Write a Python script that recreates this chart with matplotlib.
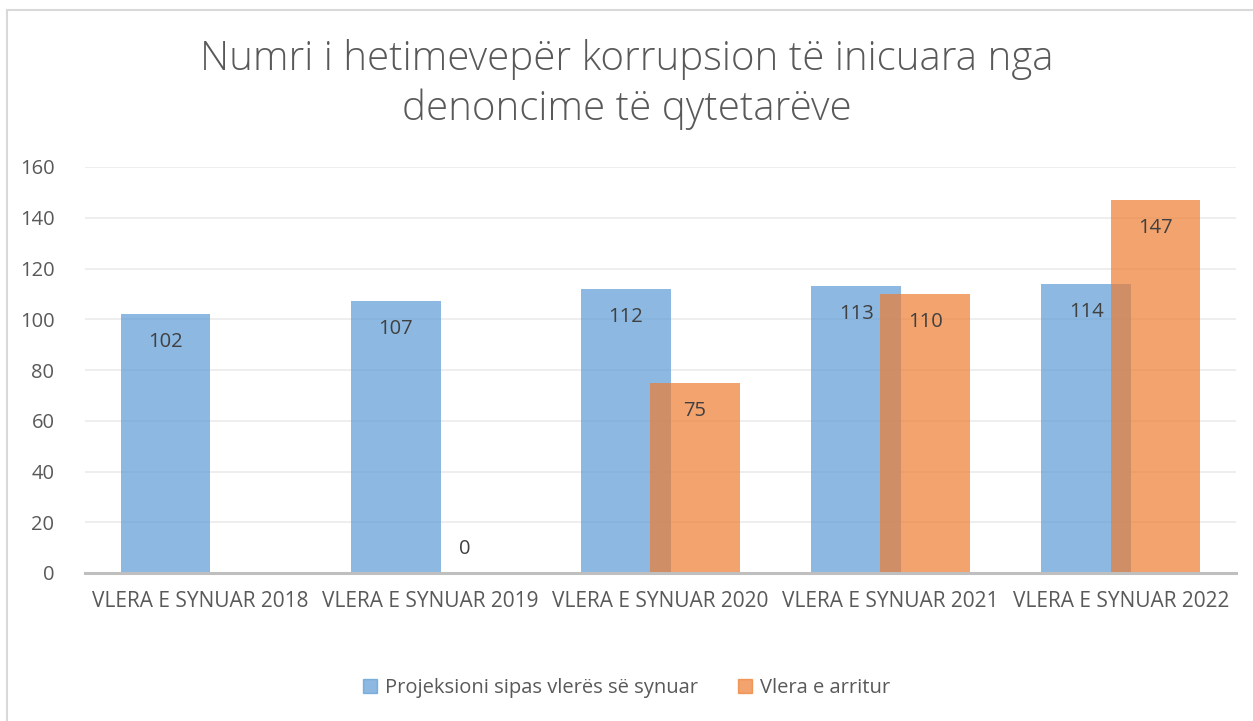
import numpy as np
import matplotlib.pyplot as plt
from matplotlib.lines import Line2D
from matplotlib.patches import Patch

# data
categories = ["VLERA E SYNUAR 2018", "VLERA E SYNUAR 2019", "VLERA E SYNUAR 2020",
              "VLERA E SYNUAR 2021", "VLERA E SYNUAR 2022"]
projeksioni = [102, 107, 112, 113, 114]
arritur = [None, 0, 75, 110, 147]
series_names = ["Projeksioni sipas vlerës së synuar", "Vlera e arritur"]

plt.rcParams['font.family'] = ['Open Sans', 'DejaVu Sans']
text_col = '#595959'

fig = plt.figure(figsize=(12.53, 7.21), dpi=100)
ax = fig.add_axes([85/1253, 148/721, 1151/1253, 406/721])

x = np.arange(len(categories))
w = 0.39
blue = '#5B9BD5'
orange = '#ED7D31'

ax.bar(x - 0.15, projeksioni, w, color=blue, alpha=0.7, zorder=2)
arr_x = [xi for xi, v in zip(x, arritur) if v is not None]
arr_v = [v for v in arritur if v is not None]
ax.bar(np.array(arr_x) + 0.15, arr_v, w, color=orange, alpha=0.7, zorder=3)

# data labels (inside end)
for xi, v in zip(x, projeksioni):
    ax.annotate(str(v), (xi - 0.15, v), xytext=(0, -28), textcoords='offset pixels',
                ha='center', va='center', fontsize=14.5, color='#404040', zorder=5)
for xi, v in zip(arr_x, arr_v):
    off = -28 if v > 0 else 24
    ax.annotate(str(v), (xi + 0.15, v), xytext=(0, off), textcoords='offset pixels',
                ha='center', va='center', fontsize=14.5, color='#404040', zorder=5)

ax.set_xlim(-0.5, 4.5)
ax.set_ylim(0, 160)
ax.set_yticks(range(0, 161, 20))
ax.set_xticks(x)
ax.set_xticklabels(categories, fontsize=15, color=text_col)
ax.tick_params(axis='y', labelsize=14.5, labelcolor=text_col, length=0, pad=22)
ax.tick_params(axis='x', length=0, pad=13)
ax.grid(axis='y', color='#EBEBEB', linewidth=1.2, zorder=0)
ax.set_axisbelow(True)
for s in ['top', 'right', 'left']:
    ax.spines[s].set_visible(False)
ax.spines['bottom'].set_color('#BFBFBF')
ax.spines['bottom'].set_linewidth(2.2)
ax.spines['bottom'].set_zorder(4)

fig.text(0.5, 1 - 59/721, "Numri i hetimevepër korrupsion të inicuara nga",
         ha='center', va='center', fontsize=29, color=text_col, fontweight='light')
fig.text(0.5, 1 - 109/721, "denoncime të qytetarëve",
         ha='center', va='center', fontsize=29, color=text_col, fontweight='light')

handles = [Patch(color=blue, alpha=0.7), Patch(color=orange, alpha=0.7)]
fig.legend(handles, series_names, loc='center', bbox_to_anchor=(0.5, 1 - 688/721),
           ncol=2, frameon=False, fontsize=14.5, labelcolor=text_col,
           handlelength=0.7, handleheight=0.7, handletextpad=0.4, columnspacing=2.0)

# chart border
fig.add_artist(Line2D([7/1253, 7/1253], [0, 1 - 10/721], transform=fig.transFigure,
                      color='#D9D9D9', linewidth=1.5))
fig.add_artist(Line2D([7/1253, 1], [1 - 10/721, 1 - 10/721], transform=fig.transFigure,
                      color='#D9D9D9', linewidth=1.5))

fig.savefig('out.png', dpi=100)
